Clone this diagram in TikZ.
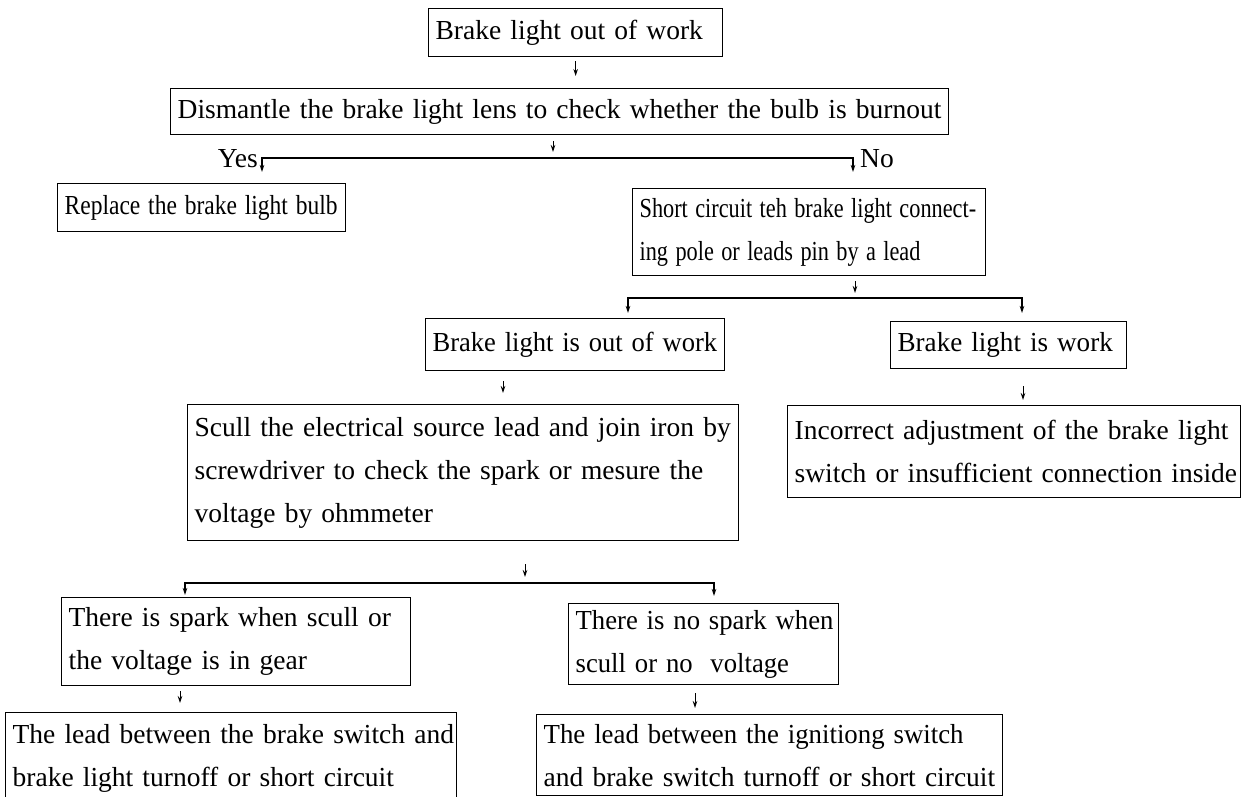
\documentclass[tikz,border=0pt]{standalone}
\usepackage{fontspec}
\setmainfont{Liberation Serif}
\usetikzlibrary{arrows.meta}
\newcommand{\oneline}[1]{\mbox{#1}}
\newcommand{\sqz}[2]{\scalebox{#1}[1]{#2}}
\begin{document}
\begin{tikzpicture}[x=1pt,y=-1pt,
  bx/.style={draw, line width=1.3pt, anchor=north west, align=left,
    inner xsep=7pt, inner ysep=0pt, font=\fontsize{27.5}{43}\selectfont},
  lab/.style={inner sep=0pt, font=\fontsize{27.5}{43}\selectfont},
  tip/.tip={Stealth[length=7pt,width=4.5pt]},
  arr/.style={line width=0.9pt, -tip},
  splitline/.style={line width=1.3pt, tip-tip}]
\useasboundingbox[fill=white] (0,0) rectangle (1242,796);

% boxes
\node[bx, text width=280pt, minimum height=48pt] (A) at (428,8) {\oneline{Brake light out of work}};
\node[bx, text width=764pt, minimum height=46pt] (B) at (170,88) {\oneline{Dismantle the brake light lens to check whether the bulb is burnout}};
\node[bx, text width=274pt, minimum height=48pt] (C) at (57,183) {\sqz{0.855}{Replace the brake light bulb}};
\node[bx, text width=339pt, minimum height=87pt] (D) at (632,188) {\sqz{0.81}{Short circuit teh brake light connect-}\\\sqz{0.81}{ing pole or leads pin by a lead}};
\node[bx, text width=285pt, minimum height=52pt] (E) at (425,318) {\sqz{0.965}{Brake light is out of work}};
\node[bx, text width=222pt, minimum height=47pt] (F) at (890,321) {\sqz{0.985}{Brake light is work}};
\node[bx, text width=537pt, minimum height=136pt] (G) at (187,404) {\oneline{Scull the electrical source lead and join iron by}\\\oneline{screwdriver to check the spark or mesure the}\\\oneline{voltage by ohmmeter}};
\node[bx, text width=439pt, minimum height=92pt] (H) at (787,405) {\oneline{Incorrect adjustment of the brake light}\\\oneline{switch or insufficient connection inside}};
\node[bx, text width=335pt, minimum height=88pt] (I) at (61,597) {\oneline{There is spark when scull or}\\\oneline{the voltage is in gear}};
\node[bx, text width=256pt, minimum height=81pt] (J) at (568,603) {\sqz{0.97}{There is no spark when}\\\sqz{0.97}{scull or no\ \ voltage}};
\node[bx, text width=437pt, minimum height=92pt] (K) at (5,712) {\oneline{The lead between the brake switch and}\\\oneline{brake light turnoff or short circuit}};
\node[bx, text width=452pt, minimum height=81pt] (L) at (536,714) {\sqz{0.975}{The lead between the ignitiong switch}\\\oneline{and brake switch turnoff or short circuit}};

% labels
\node[lab, anchor=base east] (yes) at (258,167) {Yes};
\node[lab, anchor=base west] (no) at (860,167) {No};

% junctions and free ends
\coordinate (j1) at (553,158);
\coordinate (y1) at (262,172);
\coordinate (n1) at (853,172);
\coordinate (j2) at (855,298);
\coordinate (l2) at (628,313);
\coordinate (r2) at (1022,313);
\coordinate (x4) at (503,0);
\coordinate (x5) at (1023,0);
\coordinate (j3) at (525,583);
\coordinate (l3) at (185,595);
\coordinate (r3) at (714,596);
\coordinate (x7) at (180,0);
\coordinate (x8) at (695,0);

% connectors
\draw[arr, shorten <=4pt, shorten >=12pt] (A.south) -- (A.south |- B.north);
\draw[arr, shorten <=6pt, shorten >=6pt] (B.south -| j1) -- (j1);
\draw[splitline] (y1) |- (j1) -| (n1);
\draw[arr, shorten <=5pt, shorten >=5pt] (D.south -| j2) -- (j2);
\draw[splitline] (l2) |- (j2) -| (r2);
\draw[arr, shorten <=10pt, shorten >=11pt] (E.south -| x4) -- (G.north -| x4);
\draw[arr, shorten <=17pt, shorten >=5pt] (F.south -| x5) -- (H.north -| x5);
\draw[arr, shorten <=23pt, shorten >=6pt] (G.south -| j3) -- (j3);
\draw[splitline] (l3) |- (j3) -| (r3);
\draw[arr, shorten <=5pt, shorten >=9pt] (I.south -| x7) -- (K.north -| x7);
\draw[arr, shorten <=8pt, shorten >=6pt] (J.south -| x8) -- (L.north -| x8);
\end{tikzpicture}
\end{document}
